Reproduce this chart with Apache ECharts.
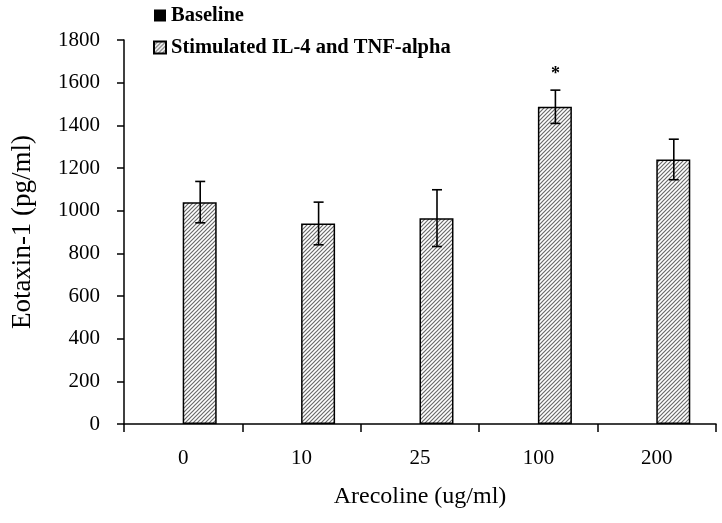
<!DOCTYPE html>
<html>
<head>
<meta charset="utf-8">
<script src="https://cdn.jsdelivr.net/npm/echarts@6/dist/echarts.min.js"></script>
<style>html,body{margin:0;padding:0;background:#fff}#c{width:722px;height:523px}</style>
</head>
<body>
<div id="c"></div>
<script>
// ---- data ----
const categories = ['0', '10', '25', '100', '200'];
const baselineValues = [null, null, null, null, null];
const stimulatedValues = [1040, 940, 965, 1487, 1240];
const stimulatedErrors = [97, 100, 133, 78, 95];
const significance = ['', '', '', '*', ''];
const yTicks = [0, 200, 400, 600, 800, 1000, 1200, 1400, 1600, 1800];

const FONT = '"Liberation Serif", "Times New Roman", serif';

function hatch() {
  const c = document.createElement('canvas');
  c.width = 4; c.height = 4;
  const g = c.getContext('2d');
  g.fillStyle = '#fff'; g.fillRect(0, 0, 4, 4);
  g.strokeStyle = '#6a6a6a'; g.lineWidth = 1.2;
  g.beginPath();
  g.moveTo(-1, 5); g.lineTo(5, -1);
  g.moveTo(-1, 1); g.lineTo(1, -1);
  g.moveTo(3, 5); g.lineTo(5, 3);
  g.stroke();
  return c;
}
const hatchPattern = { image: hatch(), repeat: 'repeat' };

const chart = echarts.init(document.getElementById('c'));
const barOffset = 17;
chart.setOption({
  animation: false,
  backgroundColor: '#fff',
  grid: { left: 124, right: 6, top: 40, bottom: 99, containLabel: false },
  legend: {
    orient: 'vertical', left: 148, top: 0, itemGap: 11,
    itemWidth: 12, itemHeight: 12,
    textStyle: { fontFamily: FONT, fontWeight: 'bold', fontSize: 20.5, color: '#000' },
    data: [
      { name: 'Baseline', icon: 'rect' },
      { name: 'Stimulated IL-4 and TNF-alpha', icon: 'rect' }
    ]
  },
  xAxis: {
    type: 'category', data: categories,
    name: 'Arecoline (ug/ml)', nameLocation: 'middle', nameGap: 61,
    nameTextStyle: { fontFamily: FONT, fontSize: 24, color: '#000' },
    axisLine: { lineStyle: { color: '#000', width: 1.5 } },
    axisTick: { show: true, length: 8, lineStyle: { color: '#000', width: 1.5 } },
    axisLabel: { fontFamily: FONT, fontSize: 21, color: '#000', margin: 24 }
  },
  yAxis: {
    type: 'value', min: yTicks[0], max: yTicks[yTicks.length - 1], interval: 200,
    name: 'Eotaxin-1 (pg/ml)', nameLocation: 'middle', nameGap: 88,
    nameTextStyle: { fontFamily: FONT, fontSize: 27, color: '#000' },
    axisLine: { show: true, lineStyle: { color: '#000', width: 1.5 } },
    axisTick: { show: true, length: 7, lineStyle: { color: '#000', width: 1.5 } },
    axisLabel: { fontFamily: FONT, fontSize: 21, color: '#000', margin: 24, formatter: v => String(v) },
    splitLine: { show: false }
  },
  series: [
    {
      name: 'Baseline', type: 'bar', data: baselineValues,
      barWidth: 34, barGap: '-3%',
      itemStyle: { color: '#000' }
    },
    {
      name: 'Stimulated IL-4 and TNF-alpha', type: 'bar', data: stimulatedValues,
      barWidth: 34,
      itemStyle: { color: hatchPattern, borderColor: '#000', borderWidth: 1.5 }
    },
    {
      type: 'custom', name: 'err', silent: true, z: 10,
      data: stimulatedValues.map((v, i) => [i, v, stimulatedErrors[i]]),
      renderItem: function (params, api) {
        const i = api.value(0), v = api.value(1), e = api.value(2);
        const top = api.coord([i, v + e]);
        const bot = api.coord([i, v - e]);
        const x = top[0] + barOffset;
        const cap = 5;
        const style = { stroke: '#000', lineWidth: 1.6 };
        const children = [
          { type: 'line', shape: { x1: x, y1: top[1], x2: x, y2: bot[1] }, style },
          { type: 'line', shape: { x1: x - cap, y1: top[1], x2: x + cap, y2: top[1] }, style },
          { type: 'line', shape: { x1: x - cap, y1: bot[1], x2: x + cap, y2: bot[1] }, style }
        ];
        const s = significance[params.dataIndex];
        if (s) {
          children.push({ type: 'text', x: x, y: top[1] - 16,
            style: { text: s, fontFamily: FONT, fontWeight: 'bold', fontSize: 18, fill: '#000', align: 'center', verticalAlign: 'middle' } });
        }
        return { type: 'group', children };
      }
    }
  ]
});
</script>
</body>
</html>
